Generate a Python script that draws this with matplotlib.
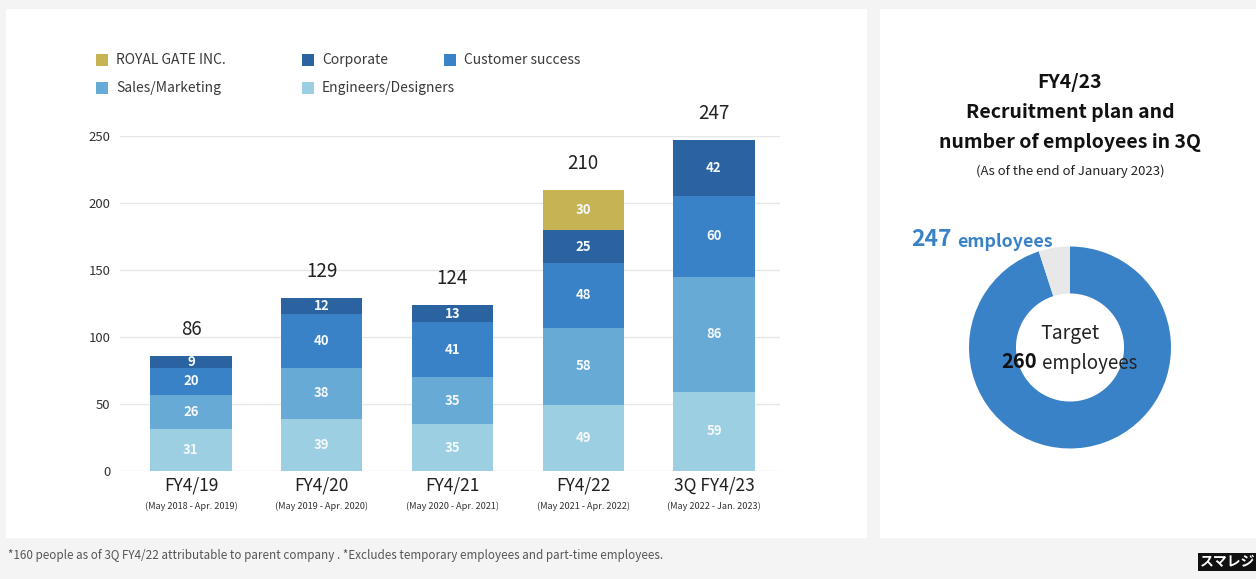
import matplotlib
matplotlib.use("Agg")
import matplotlib.pyplot as plt
from matplotlib.patches import Rectangle
from matplotlib.transforms import blended_transform_factory
import numpy as np

# ---- data -------------------------------------------------------------
fiscal_years = ["FY4/19", "FY4/20", "FY4/21", "FY4/22", "3Q FY4/23"]
periods = ["(May 2018 - Apr. 2019)", "(May 2019 - Apr. 2020)",
           "(May 2020 - Apr. 2021)", "(May 2021 - Apr. 2022)",
           "(May 2022 - Jan. 2023)"]
engineers = [31, 39, 35, 49, 59]
sales = [26, 38, 35, 58, 86]
customer = [20, 40, 41, 48, 60]
corporate = [9, 12, 13, 25, 42]
royal_gate = [0, 0, 0, 30, 0]

series_names = ["Engineers/Designers", "Sales/Marketing", "Customer success",
                "Corporate", "ROYAL GATE INC."]
series_values = [engineers, sales, customer, corporate, royal_gate]
series_colors = ["#9dcfe2", "#68aad6", "#3a82c8", "#2a63a0", "#c5b354"]

legend_rows = [["ROYAL GATE INC.", "Corporate", "Customer success"],
               ["Sales/Marketing", "Engineers/Designers"]]

y_ticks = [0, 50, 100, 150, 200, 250]

employees_now = 247
employees_target = 260

# ---- fonts ------------------------------------------------------------
MAIN = ["Noto Sans CJK JP", "DejaVu Sans"]
plt.rcParams["font.family"] = MAIN

W, H = 1256, 579
fig = plt.figure(figsize=(W / 100, H / 100), dpi=100, facecolor="#f4f4f4")


def fx(px):
    return px / W


def fy(py):
    return (H - py) / H


# white panels
fig.patches.append(Rectangle((fx(6), fy(538)), fx(867) - fx(6), fy(9) - fy(538),
                             transform=fig.transFigure, facecolor="white",
                             edgecolor="none", zorder=-10))
fig.patches.append(Rectangle((fx(880), fy(538)), fx(1262) - fx(880), fy(9) - fy(538),
                             transform=fig.transFigure, facecolor="white",
                             edgecolor="none", zorder=-10))

# ---- stacked bars -----------------------------------------------------
ax = fig.add_axes([fx(120), fy(471), fx(780) - fx(120), fy(136) - fy(471)])
ax.set_zorder(2)
ax.set_facecolor("none")
x = np.arange(len(fiscal_years))
bottom = np.zeros(len(x))
bar_w = 0.62
for name, vals, col in zip(series_names, series_values, series_colors):
    vals = np.array(vals, dtype=float)
    ax.bar(x, vals, bar_w, bottom=bottom, color=col, zorder=3, label=name)
    for xi, v, b in zip(x, vals, bottom):
        if v > 0:
            ax.text(xi, b + v / 2, f"{int(v)}", ha="center", va="center",
                    color="#f4f8fb", fontsize=9.5, fontweight="bold", zorder=4)
    bottom += vals

for xi, tot in zip(x, bottom):
    ax.annotate(f"{int(tot)}", (xi, tot), xytext=(0, 19), textcoords="offset points",
                ha="center", va="center", fontsize=13.5, color="#222222",
                annotation_clip=False)

ax.set_xlim(-0.543, 4.505)
ax.set_ylim(0, 250)
ax.set_yticks(y_ticks)
ax.set_yticklabels([str(t) for t in y_ticks], fontsize=9.5, color="#333333")
ax.tick_params(axis="y", length=0, pad=7)
ax.set_xticks([])
ax.grid(axis="y", color="#e6e6e6", linewidth=1, zorder=0)
for s in ax.spines.values():
    s.set_visible(False)

tr = blended_transform_factory(ax.transData, fig.transFigure)
for xi, fy_lab, per in zip(x, fiscal_years, periods):
    ax.text(xi, fy(486), fy_lab, transform=tr, ha="center", va="center",
            fontsize=12.5, color="#222222")
    ax.text(xi, fy(506), per, transform=tr, ha="center", va="center",
            fontsize=6.6, color="#333333")

# ---- legend -----------------------------------------------------------
color_of = dict(zip(series_names, series_colors))
col_x = [96, 302, 444]
row_y = [60, 88]
for ry, row in zip(row_y, legend_rows):
    for cx, name in zip(col_x, row):
        fig.patches.append(Rectangle((fx(cx), fy(ry + 6)), fx(12), 12 / H,
                                     transform=fig.transFigure,
                                     facecolor=color_of[name], edgecolor="none"))
        fig.text(fx(cx + 20), fy(ry), name, ha="left", va="center",
                 fontsize=10, color="#3a3a3a")

# ---- donut ------------------------------------------------------------
r_px = 101
cxp, cyp = 1070, 347.5
dax = fig.add_axes([fx(cxp - r_px), fy(cyp + r_px), 2 * r_px / W, 2 * r_px / H])
dax.set_zorder(1)
dax.pie([employees_now, employees_target - employees_now],
        colors=["#3a82c8", "#e8e8e8"], startangle=90, counterclock=False,
        radius=1, wedgeprops=dict(width=0.465, edgecolor="none"))
dax.set_xlim(-1, 1)
dax.set_ylim(-1, 1)
dax.set_aspect("auto")
dax.axis("off")

fig.text(fx(1070), fy(334), "Target", ha="center", va="center",
         fontsize=14, color="#222222", zorder=5)
fig.text(fx(1037), fy(362), f"{employees_target}", ha="right", va="center",
         fontsize=14.5, fontweight="bold", color="#111111", zorder=5)
fig.text(fx(1042), fy(363), "employees", ha="left", va="center",
         fontsize=13.5, color="#222222", zorder=5)

fig.text(fx(952), fy(240), f"{employees_now}", ha="right", va="center",
         fontsize=16.5, fontweight="bold", color="#3a82c8", zorder=5)
fig.text(fx(957), fy(242), "employees", ha="left", va="center",
         fontsize=12.8, fontweight="bold", color="#3a82c8", zorder=5)

# ---- right panel title ------------------------------------------------
fig.text(fx(1070), fy(82), "FY4/23", ha="center", va="center",
         fontsize=14, fontweight="bold", color="#111111")
fig.text(fx(1070), fy(113), "Recruitment plan and", ha="center", va="center",
         fontsize=14, fontweight="bold", color="#111111")
fig.text(fx(1070), fy(143), "number of employees in 3Q", ha="center", va="center",
         fontsize=14, fontweight="bold", color="#111111")
fig.text(fx(1070), fy(171), "(As of the end of January 2023)", ha="center",
         va="center", fontsize=9.5, color="#222222")

# ---- footnote and brand -----------------------------------------------
fig.text(fx(8), fy(556),
         "*160 people as of 3Q FY4/22 attributable to parent company . "
         "*Excludes temporary employees and part-time employees.",
         ha="left", va="center", fontsize=8.4, color="#555555")
fig.text(fx(1200), fy(562), "スマレジ", ha="left", va="center", fontsize=10,
         fontweight="bold", color="white",
         bbox=dict(boxstyle="square,pad=0.15", facecolor="#111111", edgecolor="none"))

fig.savefig("out.png", dpi=100, facecolor=fig.get_facecolor())
